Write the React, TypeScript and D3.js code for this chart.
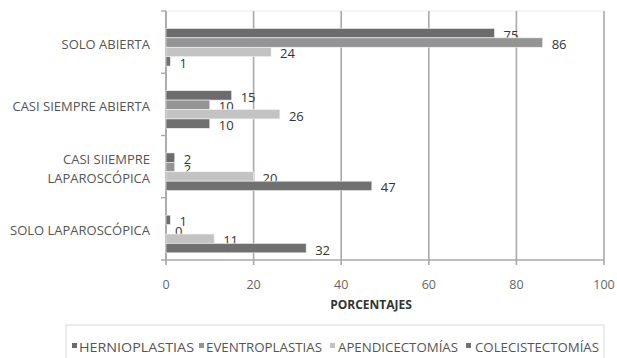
import React from "react";
import * as d3 from "d3";

const categories = [
  "SOLO ABIERTA",
  "CASI SIEMPRE ABIERTA",
  "CASI SIIEMPRE LAPAROSCÓPICA",
  "SOLO LAPAROSCÓPICA",
];
const categoryLines: string[][] = [
  ["SOLO ABIERTA"],
  ["CASI SIEMPRE ABIERTA"],
  ["CASI SIIEMPRE", "LAPAROSCÓPICA"],
  ["SOLO LAPAROSCÓPICA"],
];
const seriesNames = ["HERNIOPLASTIAS", "EVENTROPLASTIAS", "APENDICECTOMÍAS", "COLECISTECTOMÍAS"];
const hernioplastias = [75, 15, 2, 1];
const eventroplastias = [86, 10, 2, 0];
const apendicectomias = [24, 26, 20, 11];
const colecistectomias = [1, 10, 47, 32];
const seriesValues = [hernioplastias, eventroplastias, apendicectomias, colecistectomias];
const xTicks = [0, 20, 40, 60, 80, 100];
const colors = ["#6c6c6e", "#949495", "#c3c3c4", "#707071"];

const W = 617;
const H = 358;
const plotLeft = 166;
const plotRight = 604;
const plotTop = 11;
const plotBottom = 260;

export default function App() {
  const x = d3.scaleLinear().domain([0, 100]).range([plotLeft, plotRight]);
  const y = d3.scaleBand<string>().domain(categories).range([plotTop, plotBottom]).padding(0);
  const bw = y.bandwidth();
  const inner = d3
    .scaleBand<string>()
    .domain(seriesNames)
    .range([bw * 0.28, bw * 0.885])
    .padding(0);
  const font = "'Open Sans', 'Liberation Sans', sans-serif";
  const grid = "#a9a9ab";

  const legendItems = [
    { sq: 72, tx: 79 },
    { sq: 199, tx: 206 },
    { sq: 330, tx: 338 },
    { sq: 466, tx: 475 },
  ];
  const legendWidths = [115, 116, 120, 124];

  return (
    <svg
      width={W}
      height={H}
      style={{ position: "absolute", left: 0, top: 0, background: "#fff" }}
      fontFamily={font}
    >
      <line x1={plotLeft} x2={plotRight} y1={plotTop} y2={plotTop} stroke="#ececec" strokeWidth={1} />
      {xTicks.map((t) => (
        <line
          key={"g" + t}
          x1={x(t)}
          x2={x(t)}
          y1={plotTop}
          y2={plotBottom + 5}
          stroke={grid}
          strokeWidth={1.6}
        />
      ))}
      <line x1={plotLeft} x2={plotLeft} y1={plotTop} y2={plotBottom} stroke={grid} strokeWidth={1.6} />
      <line x1={plotLeft - 5} x2={plotRight} y1={plotBottom} y2={plotBottom} stroke={grid} strokeWidth={1.6} />
      {categories.map((c) => (
        <line
          key={"yt" + c}
          x1={plotLeft - 5}
          x2={plotLeft}
          y1={y(c)!}
          y2={y(c)!}
          stroke={grid}
          strokeWidth={1.4}
        />
      ))}
      {categories.map((c, ci) =>
        seriesNames.map((s, si) => {
          const v = seriesValues[si][ci];
          const by = y(c)! + inner(s)!;
          return (
            <g key={c + s}>
              <rect
                x={x(0)}
                y={by}
                width={x(v) - x(0)}
                height={inner.bandwidth()}
                fill={colors[si]}
                stroke="#f4f4f4"
                strokeWidth={0.6}
              />
              <text
                x={x(v) + 9}
                y={by + inner.bandwidth() / 2 + 1.5}
                dominantBaseline="central"
                fontSize={13}
                fill="#333"
              >
                {v}
              </text>
            </g>
          );
        })
      )}
      {categories.map((c, ci) => {
        const lines = categoryLines[ci];
        const cy = y(c)! + bw / 2 + 1.5;
        const lh = 19;
        return (
          <text key={"cl" + c} textAnchor="end" fontSize={13} fill="#555">
            {lines.map((l, li) => (
              <tspan
                key={li}
                x={150}
                y={cy + (li - (lines.length - 1) / 2) * lh}
                dominantBaseline="central"
              >
                {l}
              </tspan>
            ))}
          </text>
        );
      })}
      {xTicks.map((t) => (
        <text
          key={"xl" + t}
          x={x(t)}
          y={284}
          textAnchor="middle"
          dominantBaseline="central"
          fontSize={12.5}
          fill="#666"
        >
          {t}
        </text>
      ))}
      <text x={371} y={304} textAnchor="middle" dominantBaseline="central" fontSize={12} fontWeight="bold" fill="#333">
        PORCENTAJES
      </text>
      <rect x={66} y={325} width={538} height={40} fill="none" stroke="#d9d9d9" strokeWidth={1} />
      {seriesNames.map((s, si) => (
        <g key={"lg" + s}>
          <rect x={legendItems[si].sq} y={343} width={5} height={5} fill={colors[si]} />
          <text
            x={legendItems[si].tx}
            y={346.5}
            dominantBaseline="central"
            fontSize={13}
            fill="#555"
            textLength={legendWidths[si]}
            lengthAdjust="spacingAndGlyphs"
          >
            {s}
          </text>
        </g>
      ))}
    </svg>
  );
}
